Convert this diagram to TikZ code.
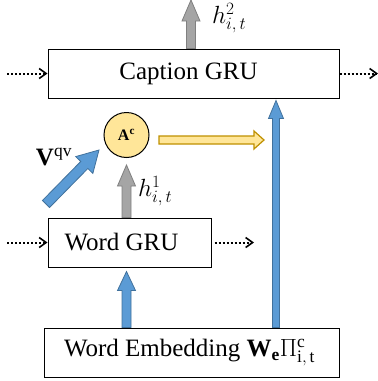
\documentclass[tikz,border=0pt]{standalone}
\usepackage{fontspec}
\setmainfont{Liberation Serif}
\usetikzlibrary{calc,arrows.meta}
\definecolor{bluefill}{HTML}{5B9BD5}
\definecolor{blueline}{HTML}{41719C}
\definecolor{grayfill}{HTML}{A5A5A5}
\definecolor{grayline}{HTML}{808080}
\definecolor{yelfill}{HTML}{FFE699}
\definecolor{yelline}{HTML}{BF9000}
\newcommand{\fatarr}[6]{%
  \path (#2) coordinate (fa-s) (#3) coordinate (fa-e);
  \path ($(fa-e)!#6!(fa-s)$) coordinate (fa-m);
  \draw[#1] ($(fa-s)!#4!90:(fa-e)$) -- ($(fa-m)!#4!90:(fa-e)$) -- ($(fa-m)!#5!90:(fa-e)$) -- (fa-e)
    -- ($(fa-m)!#5!-90:(fa-e)$) -- ($(fa-m)!#4!-90:(fa-e)$) -- ($(fa-s)!#4!-90:(fa-e)$) -- cycle;}
\begin{document}
\begin{tikzpicture}[x=1pt,y=-1pt,
  box/.style={draw=black, line width=1pt, fill=white, inner sep=0pt, font=\fontsize{25}{30}\selectfont},
  dotarr/.style={line width=2pt, dash pattern=on 2pt off 2pt, -{Straight Barb[length=7pt,width=10pt,line width=1.6pt]}},
  bluearr/.style={fill=bluefill, draw=blueline, line width=0.8pt, line join=miter},
  grayarr/.style={fill=grayfill, draw=grayline, line width=0.8pt, line join=miter},
  yelarr/.style={fill=yelfill, draw=yelline, line width=1.2pt, line join=miter},
  lbl/.style={inner sep=0pt, font=\fontsize{25}{30}\selectfont}]
\useasboundingbox (0,0) rectangle (378,381);
% boxes
\node[box, minimum width=291pt, minimum height=49pt] (cap) at (193.5,73.5) {Caption GRU\hspace*{10pt}};
\node[box, minimum width=163pt, minimum height=49pt] (word) at (129.5,242.5) {Word GRU\hspace*{16pt}};
\node[box, minimum width=295pt, minimum height=49pt] (emb) at (191.5,352.5)
  {Word Embedding $\mathbf{W}_{\mathbf{e}}\Pi^{\mathrm{c}}_{\mathrm{i,\,t}}$\hspace*{4pt}};
\node[circle, draw=black, line width=1pt, fill=yelfill, minimum size=45pt, inner sep=0pt,
  font=\fontsize{16}{18}\selectfont] (ac) at (126.5,135) {$\mathbf{A}^{\mathbf{c}}$};
% free ends
\coordinate (top) at (191,0);
\coordinate (cl) at (7,73.5);
\coordinate (cr) at (378,73.5);
\coordinate (wl) at (7,242.5);
\coordinate (wr) at (254,242.5);
\coordinate (vtail) at (46,204);
\coordinate (vtip) at (99,150);
\coordinate (ys) at (159,140);
\coordinate (ye) at (264,140);
% labels
\node[lbl, anchor=west] (h2) at (212,18) {$h^{2}_{i,\,t}$};
\node[lbl, anchor=west] (h1) at (138,191) {$h^{1}_{i,\,t}$};
\node[lbl] (vqv) at (54,157) {$\mathbf{V}^{\mathrm{qv}}$};
% dotted arrows
\draw[dotarr] (cl) -- (cap.west);
\draw[dotarr] (cap.east) -- (cr);
\draw[dotarr] (wl) -- (word.west);
\draw[dotarr] ($(word.east)+(3,0)$) -- (wr);
% fat arrows
\fatarr{grayarr}{cap.north -| top}{top}{4.5pt}{9pt}{21pt}
\fatarr{grayarr}{word.north -| ac}{$(ac.south)+(0,7)$}{4.5pt}{9pt}{21pt}
\fatarr{bluearr}{emb.north -| ac}{$(word.south -| ac)+(0,4)$}{4.5pt}{9pt}{19pt}
\fatarr{bluearr}{emb.north -| 276,0}{$(cap.south -| 276,0)+(0,2)$}{3.5pt}{7.5pt}{18pt}
\fatarr{bluearr}{vtail}{vtip}{5pt}{12pt}{21pt}
\fatarr{yelarr}{ys}{ye}{4pt}{9pt}{10pt}
\end{tikzpicture}
\end{document}
